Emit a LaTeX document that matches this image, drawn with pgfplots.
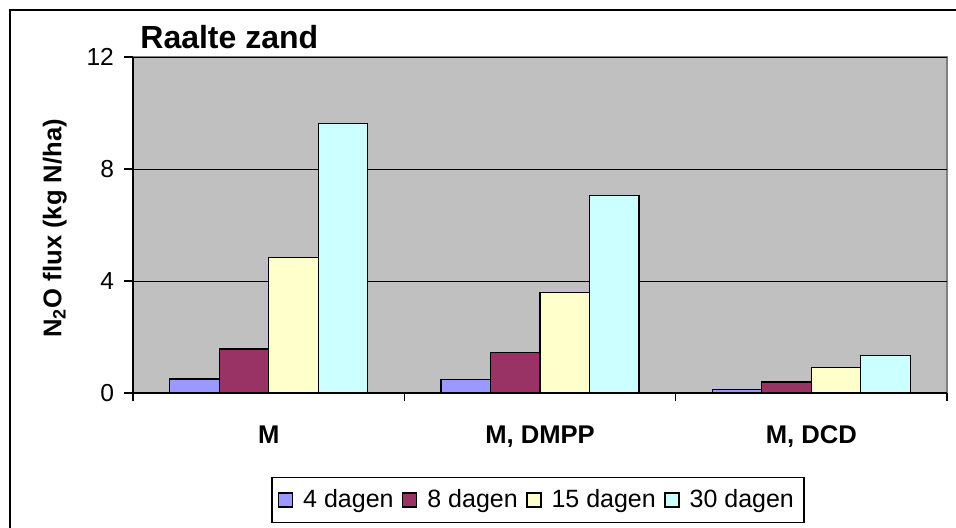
\documentclass[border=0pt]{standalone}
\usepackage{pgfplots}
\pgfplotsset{compat=1.18}
\usepackage{fontspec}
\setmainfont{Liberation Sans}
\definecolor{cA}{HTML}{9999FF}
\definecolor{cB}{HTML}{993366}
\definecolor{cC}{HTML}{FFFFCC}
\definecolor{cD}{HTML}{CCFFFF}
\definecolor{bg}{HTML}{C0C0C0}
\definecolor{bord}{HTML}{808080}
\begin{document}
\begin{tikzpicture}
\useasboundingbox (0pt,0pt) rectangle (478pt,-263.5pt);
\begin{scope}
\clip (0pt,0pt) rectangle (478pt,-263.5pt);
\draw[line width=1pt] (4.75pt,-300pt) -- (4.75pt,-4.75pt) -- (500pt,-4.75pt);
\end{scope}
\begin{axis}[
  at={(66.5pt,-196.5pt)}, anchor=south west,
  scale only axis, width=407pt, height=168pt,
  xmin=-0.5, xmax=2.5, ymin=0, ymax=12,
  axis lines=left, axis line style={-, black, line width=0.6pt},
  axis background/.style={fill=bg, draw=bord, line width=0.8pt},
  ybar=0pt, bar width=24.75pt,
  xtick={0,1,2}, xticklabels={M, {M, DMPP}, {M, DCD}},
  major x tick style={draw=none},
  minor xtick={-0.5,0.5,1.5,2.5},
  minor x tick style={black, line width=0.6pt},
  minor tick length=4pt,
  ytick={0,4,8,12}, major tick length=4.5pt,
  y tick style={black, line width=0.6pt},
  tick align=outside,
  ymajorgrids, grid style={black, line width=0.5pt},
  /pgf/number format/assume math mode=true,
  yticklabel style={font=\fontsize{12.3}{14}\selectfont, xshift=-1.5pt},
  xticklabel style={font=\bfseries\fontsize{12.8}{15}\selectfont, anchor=base, yshift=-20.5pt},
  ylabel={\textbf{N\textsubscript{2}O flux (kg N/ha)}},
  ylabel style={font=\fontsize{12.8}{15}\selectfont, at={(axis description cs:-0.096,0.49)}, anchor=center, rotate=0},
  legend style={at={(axis description cs:0.4975,-0.3185)}, anchor=center, legend columns=4, draw=black, line width=0.6pt, font=\fontsize{12.5}{15}\selectfont, inner xsep=3pt, inner ysep=4pt, /tikz/every even column/.append style={column sep=2.3pt}, /tikz/every odd column/.append style={column sep=3pt}},
  legend image code/.code={\draw[#1, draw=black, line width=0.6pt] (0pt,-3.5pt) rectangle (7pt,3.5pt);},
  every axis plot/.append style={draw=black, line width=0.6pt},
]
\addplot[fill=cA] coordinates {(0,0.50) (1,0.48) (2,0.12)};
\addplot[fill=cB] coordinates {(0,1.57) (1,1.46) (2,0.39)};
\addplot[fill=cC] coordinates {(0,4.84) (1,3.60) (2,0.90)};
\addplot[fill=cD] coordinates {(0,9.62) (1,7.05) (2,1.33)};
\legend{4 dagen, 8 dagen, 15 dagen, 30 dagen}
\end{axis}
\node[anchor=base west, inner sep=0pt, font=\bfseries\fontsize{16}{18}\selectfont] at (70pt,-24pt) {Raalte zand};
\end{tikzpicture}
\end{document}
